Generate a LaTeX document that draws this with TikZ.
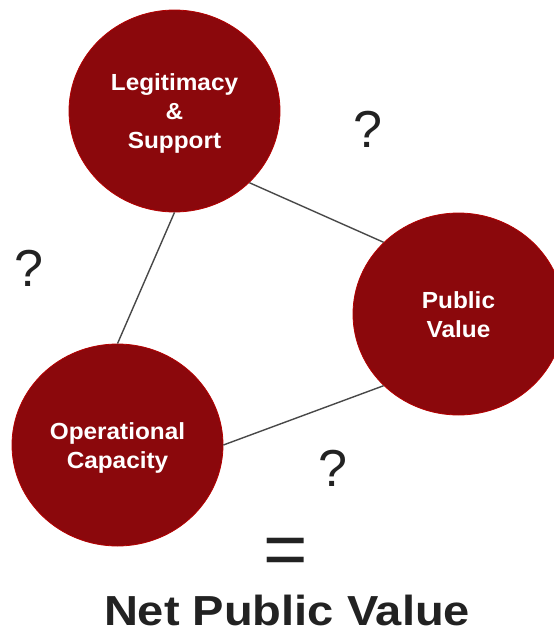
\documentclass[tikz,border=0pt]{standalone}
\usepackage{fontspec}
\usetikzlibrary{shapes.geometric}
\setmainfont{Liberation Sans}
\newfontfamily\circfont[FakeStretch=1.045]{Liberation Sans}
\newfontfamily\bigfont[FakeStretch=1.12]{Liberation Sans}
\definecolor{discfill}{RGB}{139,8,12}
\definecolor{discedge}{RGB}{180,0,0}
\definecolor{inkdark}{RGB}{34,34,34}
\definecolor{linkgray}{RGB}{72,72,72}
\tikzset{
  disc/.style={ellipse, minimum width=211pt, minimum height=202pt, inner sep=0pt,
    fill=discfill, draw=discedge, line width=0.8pt, text=white, align=center,
    font=\circfont\bfseries\fontsize{23.3}{29}\selectfont},
  link/.style={draw=linkgray, line width=1.4pt},
  qmark/.style={anchor=base, text=inkdark, inner sep=0pt, font=\fontsize{52}{60}\selectfont},
}
\begin{document}
\begin{tikzpicture}[x=1pt,y=-1pt]
\useasboundingbox (0,0) rectangle (554,632);
\node[disc] (legit) at (174.5,111) {\rule{0pt}{22pt}Legitimacy\\\&\\Support};
\node[disc] (pub) at (458.5,314) {\rule{0pt}{19pt}Public\\Value};
\node[disc] (oper) at (117.5,445) {\rule{0pt}{22pt}Operational\\Capacity};
\draw[link] (legit.south) -- (oper.north);
\draw[link] (legit.south east) -- (pub.north west);
\draw[link] (oper.east) -- (pub.south west);
\node[qmark] (q1) at (368,147) {?};
\node[qmark] (q2) at (29,286) {?};
\node[qmark] (q3) at (332.5,486) {?};
\node[anchor=base, text=inkdark, inner sep=0pt, font=\fontsize{76}{80}\selectfont] (eq) at (286,575) {=};
\node[anchor=base, text=inkdark, inner sep=0pt, font=\bigfont\bfseries\fontsize{42}{48}\selectfont] (net) at (287,625) {Net Public Value};
\end{tikzpicture}
\end{document}
